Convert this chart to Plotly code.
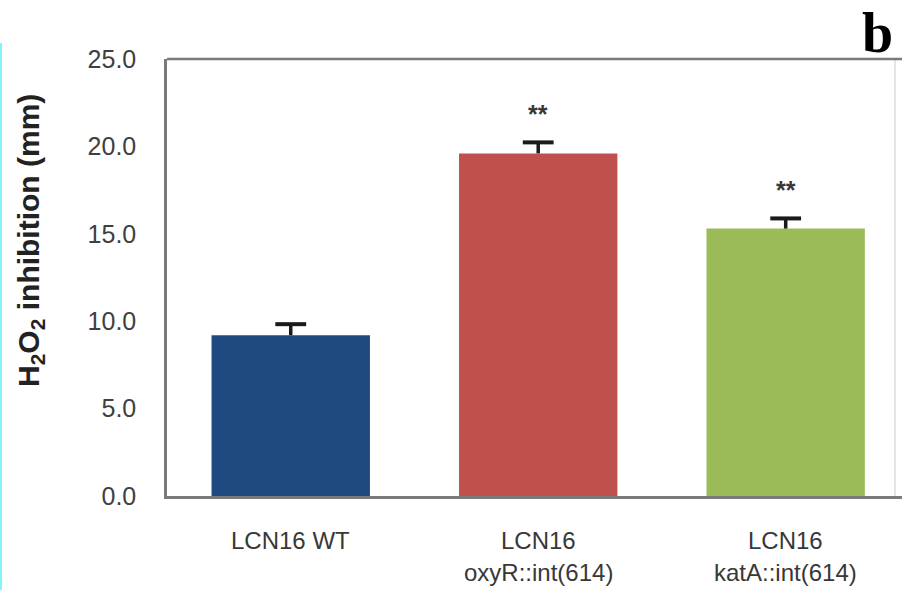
import plotly.graph_objects as go

# Inhibition-zone diameters (mm) with standard errors
strains = ["LCN16 WT", "LCN16 oxyR::int(614)", "LCN16 katA::int(614)"]
label_line1 = ["LCN16 WT", "LCN16", "LCN16"]
label_line2 = ["", "oxyR::int(614)", "katA::int(614)"]
inhibition = [9.2, 19.6, 15.3]
error = [0.63, 0.63, 0.58]
significance = ["", "**", "**"]
bar_colors = ["#1f4a80", "#c0504d", "#9bbb59"]
y_ticks = [0, 5, 10, 15, 20, 25]
y_ticktext = ["0.0", "5.0", "10.0", "15.0", "20.0", "25.0"]

W, H = 902, 590
L, R, T, B = 167, 0, 59, 94
PW, PH = W - L - R, H - T - B
SANS = "Liberation Sans, Arial"
TXT = "#383838"

xs = list(range(len(strains)))
upper = [v + e for v, e in zip(inhibition, error)]

fig = go.Figure()
fig.add_trace(go.Bar(
    x=xs, y=inhibition,
    marker=dict(color=bar_colors, line=dict(width=0)),
    hovertext=strains, showlegend=False,
))
# one-sided error bars: stem drawn downward from the cap, cap as a horizontal tick
fig.add_trace(go.Scatter(
    x=xs, y=upper, mode="markers",
    marker=dict(symbol="line-ew", size=22, line=dict(color="#1a1a1a", width=4)),
    error_y=dict(type="data", array=[0] * 3, arrayminus=error, symmetric=False,
                 color="#1a1a1a", thickness=3.5, width=0),
    hoverinfo="skip", showlegend=False,
))

annotations = []
for i, (l1, l2, sig) in enumerate(zip(label_line1, label_line2, significance)):
    annotations.append(dict(x=i, y=0, xref="x", yref="y", text=l1, showarrow=False,
                            yanchor="middle", yshift=-44,
                            font=dict(family=SANS, size=24, color=TXT)))
    if l2:
        annotations.append(dict(x=i, y=0, xref="x", yref="y", text=l2, showarrow=False,
                                yanchor="middle", yshift=-76,
                                font=dict(family=SANS, size=24, color=TXT)))
    if sig:
        annotations.append(dict(x=i, y=upper[i], xref="x", yref="y", text="<b>%s</b>" % sig,
                                showarrow=False, yanchor="middle", yshift=28,
                                font=dict(family=SANS, size=25, color=TXT)))

# rotated y-axis title
annotations.append(dict(
    x=-(L - 30) / PW, y=(H - B - 241) / PH, xref="paper", yref="paper",
    text="<b>H<sub>2</sub>O<sub>2</sub> inhibition (mm)</b>", textangle=-90, showarrow=False,
    xanchor="center", yanchor="middle",
    font=dict(family=SANS, size=30, color="#222222")))

# panel letter, anchored to the top edge of the figure
annotations.append(dict(
    x=(877 - L) / PW, y=(H - B) / PH, xref="paper", yref="paper",
    text="<b>b</b>", showarrow=False, xanchor="center", yanchor="top",
    font=dict(family="Liberation Serif, Times New Roman", size=56, color="#000000")))

shapes = [
    # faint right border of the plot frame
    dict(type="line", xref="paper", yref="paper", x0=(895 - L) / PW, x1=(895 - L) / PW,
         y0=0, y1=1, line=dict(color="#dcdcdc", width=1.5)),
    # top border
    dict(type="line", xref="paper", yref="paper", x0=0, x1=1, y0=1, y1=1,
         line=dict(color="#7a7a7a", width=2.5)),
    # thin cyan strip along the left edge
    dict(type="rect", xref="paper", yref="paper", x0=-L / PW, x1=-(L - 2) / PW,
         y0=-B / PH, y1=(H - B - 43) / PH,
         fillcolor="#7ff5f5", line=dict(width=0)),
]

fig.update_layout(
    width=W, height=H,
    margin=dict(l=L, r=R, t=T, b=B, pad=0),
    paper_bgcolor="white", plot_bgcolor="white",
    bargap=0.36,
    xaxis=dict(range=[-0.5, 2.47], showticklabels=False, ticks="", showgrid=False,
               zeroline=False, showline=True, linecolor="#7a7a7a", linewidth=2.5),
    yaxis=dict(range=[0, 25], tickvals=y_ticks, ticktext=y_ticktext, showgrid=False,
               zeroline=False, showline=True, linecolor="#7a7a7a", linewidth=2.5,
               ticks="", ticklabelstandoff=23,
               tickfont=dict(family=SANS, size=25, color="#404040")),
    annotations=annotations,
    shapes=shapes,
)

fig.write_html("out.html")
